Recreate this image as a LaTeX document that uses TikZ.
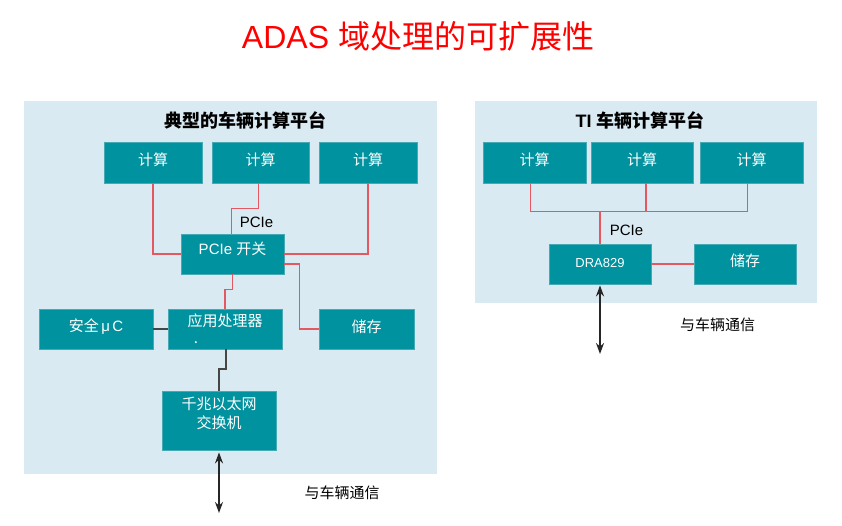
\documentclass[tikz,border=0pt]{standalone}
\usepackage{fontspec}
\setmainfont{Liberation Sans}
\newfontfamily\cjk{Noto Sans CJK SC}
\usetikzlibrary{arrows.meta}
\definecolor{panelbg}{RGB}{218,234,242}
\definecolor{boxteal}{RGB}{0,146,158}
\definecolor{boxedge}{RGB}{70,170,180}
\definecolor{pcie}{RGB}{228,88,98}
\definecolor{gline}{RGB}{70,70,70}
\tikzset{
  box/.style={draw=boxedge, fill=boxteal, line width=0.8pt, text=white, inner sep=0pt,
    font=\fontsize{15}{18}\selectfont\cjk},
  boxtext/.style={text=white, inner sep=0pt, align=center, font=\fontsize{15}{19}\selectfont\cjk},
  redline/.style={draw=pcie, line width=1.6pt},
  grayline/.style={draw=gline, line width=1.9pt},
  biarrow/.style={draw=black!85, line width=1.8pt,
    {Stealth[length=11pt,width=8pt]}-{Stealth[length=11pt,width=8pt]}},
  lbl/.style={inner sep=0pt, text=black, font=\fontsize{15}{18}\selectfont},
  cjklbl/.style={inner sep=0pt, text=black, font=\fontsize{15}{18}\selectfont\cjk},
  ptitle/.style={inner sep=0pt, text=black, font=\fontsize{18}{22}\selectfont\bfseries},
}
\begin{document}
\begin{tikzpicture}[x=1pt,y=-1pt]
\useasboundingbox[fill=white] (0,0) rectangle (842,526);
% main title
\node[inner sep=0pt, text=red, font=\fontsize{32}{36}\selectfont] (title) at (418,36) {ADAS {\cjk 域处理的可扩展性}};
% panels
\fill[panelbg] (24,101) rectangle (437,474);
\fill[panelbg] (475,101) rectangle (817,303);
\node[ptitle] (tl) at (245,120) {\cjk 典型的车辆计算平台};
\node[ptitle] (tr) at (640,120) {TI {\cjk 车辆计算平台}};
% left boxes
\node[box, minimum width=98pt, minimum height=41pt] (c1) at (153,162.5) {};
\node[boxtext] (c1t) at ([yshift=3pt]c1.center) {计算};
\node[box, minimum width=97pt, minimum height=41pt] (c2) at (260.5,162.5) {};
\node[boxtext] (c2t) at ([yshift=3pt]c2.center) {计算};
\node[box, minimum width=98pt, minimum height=41pt] (c3) at (368,162.5) {};
\node[boxtext] (c3t) at ([yshift=3pt]c3.center) {计算};
\node[box, minimum width=103pt, minimum height=40pt] (sw) at (232.5,254) {};
\node[boxtext, font=\fontsize{15}{18}\selectfont] (swt) at ([yshift=5pt]sw.center) {PCIe {\cjk 开关}};
\node[box, minimum width=114pt, minimum height=40pt] (mc) at (96,329) {};
\node[boxtext, font=\fontsize{15}{18}\selectfont] (mct) at ([yshift=2pt]mc.center) {{\cjk 安全}\,μ\,C};
\node[box, minimum width=114pt, minimum height=40pt] (ap) at (225,329) {};
\node[boxtext] (apt) at ([yshift=8pt]ap.center) {应用处理器};
\node[boxtext] (apd) at (196,343) {.};
\node[box, minimum width=95pt, minimum height=40pt] (st) at (366.5,329) {};
\node[boxtext] (stt) at ([yshift=2pt]st.center) {储存};
\node[box, minimum width=114pt, minimum height=59pt] (es) at (219,420.5) {};
\node[boxtext] (est) at ([yshift=7pt]es.center) {千兆以太网\\交换机};
% left connectors
\draw[redline] (c1.south) |- (sw.west);
\draw[redline] (c3.south) |- (sw.east);
\draw[redline] ([xshift=-2pt]c2.south) -- ++(0,25) -| ([xshift=-1pt]sw.north);
\draw[redline] ([yshift=-10pt]sw.east) -- ++(15,0) |- (st.west);
\draw[redline] (sw.south) -- ++(0,15) -| (ap.north);
\node[lbl] (pl) at (256.5,222) {PCIe};
\draw[grayline] (mc.east) -- (ap.west);
\draw[grayline] ([xshift=1pt]ap.south) -- ++(0,20) -| (es.north);
\coordinate (lend) at (219,513);
\draw[biarrow] ([yshift=-2pt]es.south) -- (lend);
\node[cjklbl] (lc) at (342,493) {与车辆通信};
% right boxes
\node[box, minimum width=103pt, minimum height=41pt] (r1) at (534.5,162.5) {};
\node[boxtext] (r1t) at ([yshift=3pt]r1.center) {计算};
\node[box, minimum width=102pt, minimum height=41pt] (r2) at (642,162.5) {};
\node[boxtext] (r2t) at ([yshift=3pt]r2.center) {计算};
\node[box, minimum width=103pt, minimum height=41pt] (r3) at (751.5,162.5) {};
\node[boxtext] (r3t) at ([yshift=3pt]r3.center) {计算};
\node[box, minimum width=102pt, minimum height=40pt] (dra) at (600,264) {};
\node[boxtext, font=\fontsize{13}{16}\selectfont] (drat) at ([yshift=1pt]dra.center) {DRA829};
\node[box, minimum width=102pt, minimum height=40pt] (rst) at (745,264) {};
\node[boxtext] (rstt) at ([yshift=3pt]rst.center) {储存};
% right connectors
\draw[redline] ([xshift=-4pt]r1.south) -- ++(0,28) coordinate (b1) -| ([xshift=-4pt]r3.south);
\draw[redline] ([xshift=4pt]r2.south) -- ([xshift=4pt]r2.south |- b1);
\draw[redline] (dra.north) -- (dra.north |- b1);
\draw[redline] (dra.east) -- (rst.west);
\node[lbl] (pr) at (626.5,230) {PCIe};
\coordinate (rend) at (600,354);
\draw[biarrow] ([yshift=-1pt]dra.south) -- (rend);
\node[cjklbl] (rc) at (717.5,325) {与车辆通信};
\end{tikzpicture}
\end{document}
